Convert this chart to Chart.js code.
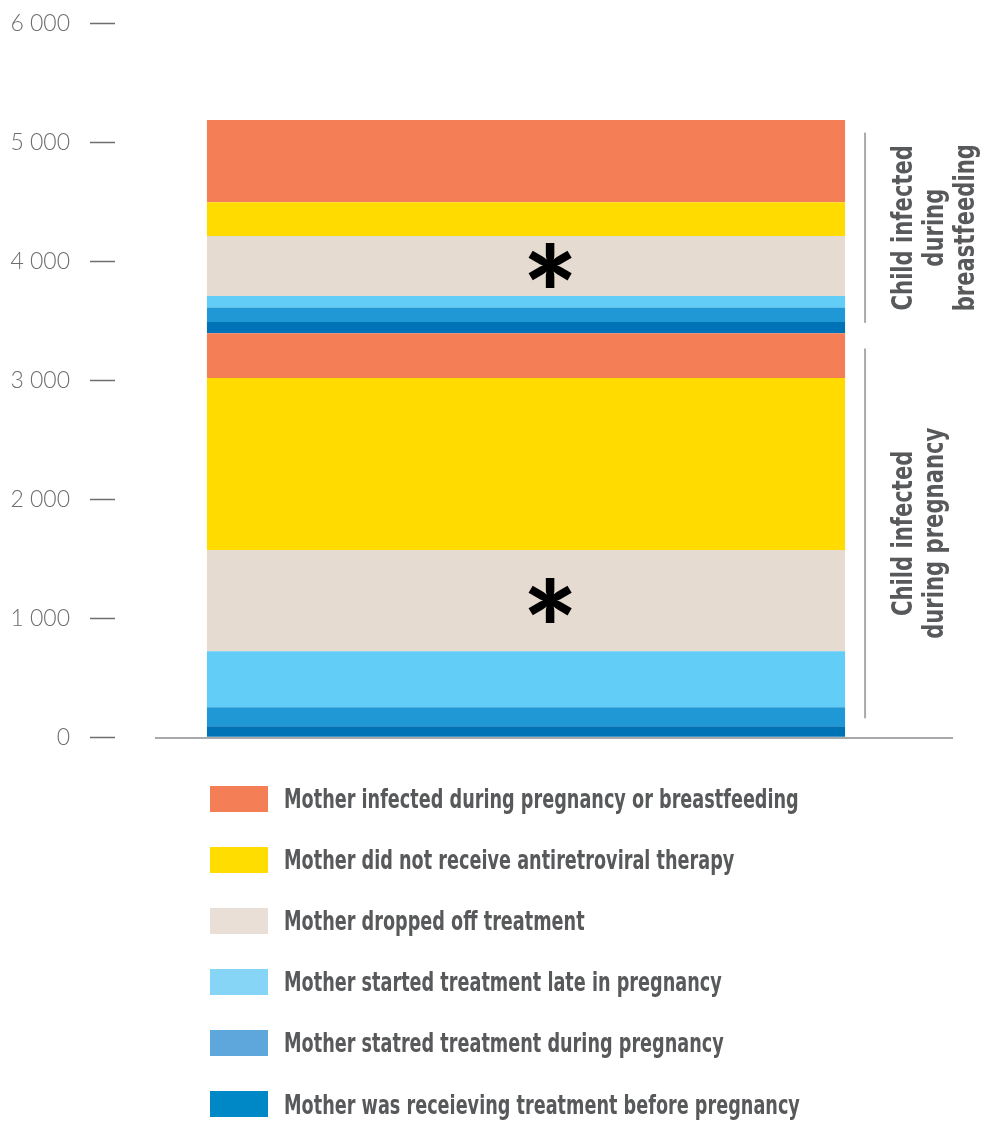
<!DOCTYPE html>
<html>
<head>
<meta charset="utf-8">
<script src="https://cdn.jsdelivr.net/npm/chart.js@4/dist/chart.umd.min.js"></script>
<style>
  body { margin: 0; background: #fff; overflow: hidden; }
  #wrap { position: relative; width: 989px; height: 1122px; overflow: hidden; }
  #chartBox { position: absolute; left: 0; top: -10.5px; width: 989px; height: 781px; }
  #legend { position: absolute; left: 210px; top: 768px; }
  .row { display: flex; align-items: center; height: 61.1px; }
  .box { width: 58px; height: 26px; margin-right: 16px; flex: none; }
  .txt { font-family: "DejaVu Sans Condensed", "DejaVu Sans", sans-serif; font-weight: bold;
         font-size: 27px; color: #58595b; white-space: nowrap; display: inline-block;
         transform: scaleX(0.727); transform-origin: 0 50%; }
</style>
</head>
<body>
<div id="wrap">
  <div id="chartBox"><canvas id="chart"></canvas></div>
  <div id="legend"></div>
</div>
<script>
// causes, listed top to bottom as in the legend
const causes = [
    'Mother infected during pregnancy or breastfeeding',
    'Mother did not receive antiretroviral therapy',
    'Mother dropped off treatment',
    'Mother started treatment late in pregnancy',
    'Mother statred treatment during pregnancy',
    'Mother was receieving treatment before pregnancy'
];
const category = [''];
const pregnancyValues = [377, 1447, 851, 472, 158, 93];
const breastfeedingValues = [691, 283, 505, 96, 123, 94];
const yTicks = [0, 1000, 2000, 3000, 4000, 5000, 6000];
const groupNames = [['Child infected', 'during pregnancy'], ['Child infected', 'during', 'breastfeeding']];
const groupRanges = [[160, 3270], [3485, 5085]];

const barColors = ['#f47f57', '#ffdb00', '#e6dbd0', '#62cdf6', '#2198d6', '#0072b6'];
const legendColors = ['#f47f57', '#ffdd00', '#e9dfd6', '#86d5f7', '#5ea7dc', '#0088c6'];
const starCause = 2; // dropped off treatment

// stacked from the bottom up: pregnancy first, then breastfeeding
const datasets = [];
[pregnancyValues, breastfeedingValues].forEach((vals, g) => {
    for (let i = causes.length - 1; i >= 0; i--) {
        datasets.push({
            label: causes[i],
            data: [vals[i]],
            backgroundColor: barColors[i],
            borderWidth: 0,
            group: g,
            cause: i
        });
    }
});

function formatTick(v) {
    return String(v).replace(/\B(?=(\d{3})+(?!\d))/g, ' ');
}

const notes = {
    id: 'notes',
    afterDatasetsDraw(chart) {
        const ctx = chart.ctx;
        const y = chart.scales.y;
        const area = chart.chartArea;
        ctx.save();

        // baseline, running past the plot on the right
        const y0 = Math.round(y.getPixelForValue(0)) + 1;
        ctx.strokeStyle = '#a7a9ac';
        ctx.lineWidth = 2;
        ctx.beginPath();
        ctx.moveTo(area.left, y0);
        ctx.lineTo(chart.width - 36, y0);
        ctx.stroke();

        // asterisks on the "dropped off" segments
        ctx.fillStyle = '#000';
        ctx.font = '900 130px Lato';
        ctx.textAlign = 'center';
        ctx.textBaseline = 'alphabetic';
        const m = ctx.measureText('*');
        const shift = (m.actualBoundingBoxAscent - m.actualBoundingBoxDescent) / 2;
        chart.data.datasets.forEach((ds, di) => {
            if (ds.cause !== starCause) return;
            const el = chart.getDatasetMeta(di).data[0];
            ctx.fillText('*', el.x + 24, (el.y + el.base) / 2 + shift);
        });

        // brackets and group labels on the right
        const bar = chart.getDatasetMeta(0).data[0];
        const bx = bar.x + bar.width / 2 + 20;
        groupRanges.forEach((r, g) => {
            const top = y.getPixelForValue(r[1]);
            const bot = y.getPixelForValue(r[0]);
            ctx.strokeStyle = '#a7a9ac';
            ctx.lineWidth = 2;
            ctx.beginPath();
            ctx.moveTo(bx, top);
            ctx.lineTo(bx, bot);
            ctx.stroke();

            const cy = (top + bot) / 2;
            ctx.fillStyle = '#58595b';
            ctx.font = 'bold 29px "DejaVu Sans Condensed", "DejaVu Sans", sans-serif';
            ctx.textAlign = 'center';
            groupNames[g].forEach((line, i) => {
                ctx.save();
                ctx.translate(bx + 47 + i * 31, cy);
                ctx.rotate(-Math.PI / 2);
                ctx.scale(0.81, 1);
                ctx.fillText(line, 0, 0);
                ctx.restore();
            });
        });
        ctx.restore();
    }
};

new Chart(document.getElementById('chart'), {
    type: 'bar',
    data: { labels: category, datasets: datasets },
    options: {
        responsive: true,
        maintainAspectRatio: false,
        animation: false,
        layout: { padding: { top: 14, bottom: 13.5, left: 0, right: 92 } },
        barPercentage: 0.86,
        categoryPercentage: 1.0,
        plugins: {
            legend: { display: false },
            tooltip: { enabled: false }
        },
        scales: {
            x: {
                stacked: true,
                ticks: { display: false },
                grid: { display: false },
                border: { display: false }
            },
            y: {
                stacked: true,
                min: 0,
                max: 6000,
                afterBuildTicks: (s) => { s.ticks = yTicks.map(v => ({ value: v })); },
                afterFit: (s) => { s.width = 155; },
                ticks: {
                    padding: 20,
                    color: '#6d6e71',
                    font: { family: 'Lato', weight: 300, size: 23 },
                    callback: (v) => formatTick(v)
                },
                grid: {
                    display: true,
                    drawOnChartArea: false,
                    drawTicks: true,
                    tickLength: 65,
                    tickBorderDash: [25, 200],
                    tickColor: '#6d6e71',
                    tickWidth: 1.5
                },
                border: { display: false }
            }
        }
    },
    plugins: [notes]
});

// legend built from the same lists
const legend = document.getElementById('legend');
causes.forEach((c, i) => {
    const row = document.createElement('div');
    row.className = 'row';
    const box = document.createElement('div');
    box.className = 'box';
    box.style.background = legendColors[i];
    const txt = document.createElement('span');
    txt.className = 'txt';
    txt.textContent = c;
    row.appendChild(box);
    row.appendChild(txt);
    legend.appendChild(row);
});
</script>
</body>
</html>
